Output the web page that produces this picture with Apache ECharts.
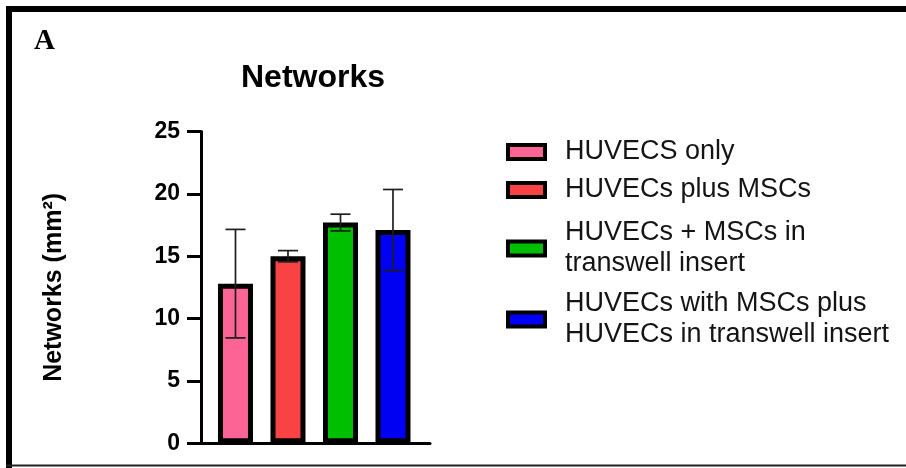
<!DOCTYPE html>
<html>
<head>
<meta charset="utf-8">
<title>Networks</title>
<script src="https://cdn.jsdelivr.net/npm/echarts@6/dist/echarts.min.js"></script>
<style>
  html, body { margin: 0; padding: 0; background: #ffffff; }
  #chart { width: 906px; height: 468px; }
</style>
</head>
<body>
<div id="chart"></div>
<script>
// Groups, their mean network area (mm²) and the error (±) drawn as whiskers
const groups = [
  'HUVECS only',
  'HUVECs plus MSCs',
  'HUVECs + MSCs in transwell insert',
  'HUVECs with MSCs plus HUVECs in transwell insert'
];
const legendLines = [
  'HUVECS only',
  'HUVECs plus MSCs',
  'HUVECs + MSCs in\ntranswell insert',
  'HUVECs with MSCs plus\nHUVECs in transwell insert'
];
const means = [12.8, 15.0, 17.7, 17.1];
const errors = [4.35, 0.45, 0.67, 3.25];
const positions = [1, 2, 3, 4];
const yTicks = [0, 5, 10, 15, 20, 25];

const colors = ['#fb6495', '#f94243', '#00bf00', '#0000f2'];
const FONT = '"Liberation Sans", Arial, sans-serif';

const chart = echarts.init(document.getElementById('chart'), null, { renderer: 'canvas' });

const barSeries = groups.map((name, i) => ({
  name: name,
  type: 'bar',
  barWidth: 35,
  barGap: '-100%',
  itemStyle: { color: colors[i], borderColor: '#000', borderWidth: 5 },
  data: [[positions[i], means[i]]],
  z: 2
}));

const errorSeries = {
  type: 'custom',
  z: 5,
  silent: true,
  data: means.map((m, i) => [positions[i], m - errors[i], m + errors[i]]),
  renderItem: function (params, api) {
    const x = api.value(0);
    const top = api.coord([x, api.value(2)]);
    const bot = api.coord([x, api.value(1)]);
    const half = 10;
    const style = { stroke: '#1e1e1e', lineWidth: 1.7 };
    return {
      type: 'group',
      children: [
        { type: 'line', shape: { x1: top[0], y1: top[1], x2: bot[0], y2: bot[1] }, style: style },
        { type: 'line', shape: { x1: top[0] - half, y1: top[1], x2: top[0] + half, y2: top[1] }, style: style },
        { type: 'line', shape: { x1: bot[0] - half, y1: bot[1], x2: bot[0] + half, y2: bot[1] }, style: style }
      ]
    };
  }
};

// one legend block per group so each entry sits at its own height
const legendTops = [136.5, 174.5, 217.5, 288.5];
const legends = groups.map((name, i) => ({
  data: [name],
  left: 506,
  top: legendTops[i],
  orient: 'vertical',
  padding: 0,
  icon: 'rect',
  itemWidth: 37,
  itemHeight: 14,
  selectedMode: false,
  itemStyle: { borderColor: '#000', borderWidth: 4 },
  formatter: () => legendLines[i],
  textStyle: {
    fontFamily: FONT,
    fontSize: 27,
    lineHeight: 31,
    color: '#141414',
    padding: [0, 0, 0, 15]
  }
}));

chart.setOption({
  backgroundColor: '#ffffff',
  animation: false,
  title: [
    {
      text: 'A',
      left: 34,
      top: 27,
      padding: 0,
      textStyle: { fontFamily: '"Liberation Serif", "Times New Roman", serif', fontWeight: 'bold', fontSize: 29, color: '#000' }
    },
    {
      text: 'Networks',
      left: 313,
      textAlign: 'center',
      top: 62,
      padding: 0,
      textStyle: { fontFamily: FONT, fontWeight: 'bold', fontSize: 32, color: '#000' }
    }
  ],
  legend: legends,
  grid: { left: 201, top: 131.5, width: 229, height: 311.8, containLabel: false },
  xAxis: {
    type: 'value',
    min: 0.343,
    max: 4.705,
    axisLine: { show: true, onZero: false, lineStyle: { color: '#000', width: 3 } },
    axisTick: { show: false },
    axisLabel: { show: false },
    splitLine: { show: false }
  },
  yAxis: {
    type: 'value',
    min: yTicks[0],
    max: yTicks[yTicks.length - 1],
    interval: yTicks[1] - yTicks[0],
    name: 'Networks (mm²)',
    nameLocation: 'middle',
    nameRotate: 90,
    nameGap: 134,
    nameTextStyle: { fontFamily: FONT, fontWeight: 'bold', fontSize: 25, color: '#000' },
    axisLine: { show: true, lineStyle: { color: '#000', width: 3 } },
    axisTick: { show: true, inside: false, length: 14, lineStyle: { color: '#000', width: 3 } },
    axisLabel: { fontFamily: FONT, fontWeight: 'bold', fontSize: 23, color: '#000', margin: 21 },
    splitLine: { show: false }
  },
  graphic: [
    // panel frame: heavy top and left rules, thin bottom rule
    { type: 'line', shape: { x1: 6, y1: 9, x2: 906, y2: 9 }, style: { stroke: '#000', lineWidth: 6 }, z: 100 },
    { type: 'line', shape: { x1: 9, y1: 6, x2: 9, y2: 468 }, style: { stroke: '#000', lineWidth: 6 }, z: 100 },
    { type: 'line', shape: { x1: 6, y1: 465.5, x2: 906, y2: 465.5 }, style: { stroke: '#222', lineWidth: 2 }, z: 100 }
  ],
  series: barSeries.concat([errorSeries])
});
</script>
</body>
</html>
